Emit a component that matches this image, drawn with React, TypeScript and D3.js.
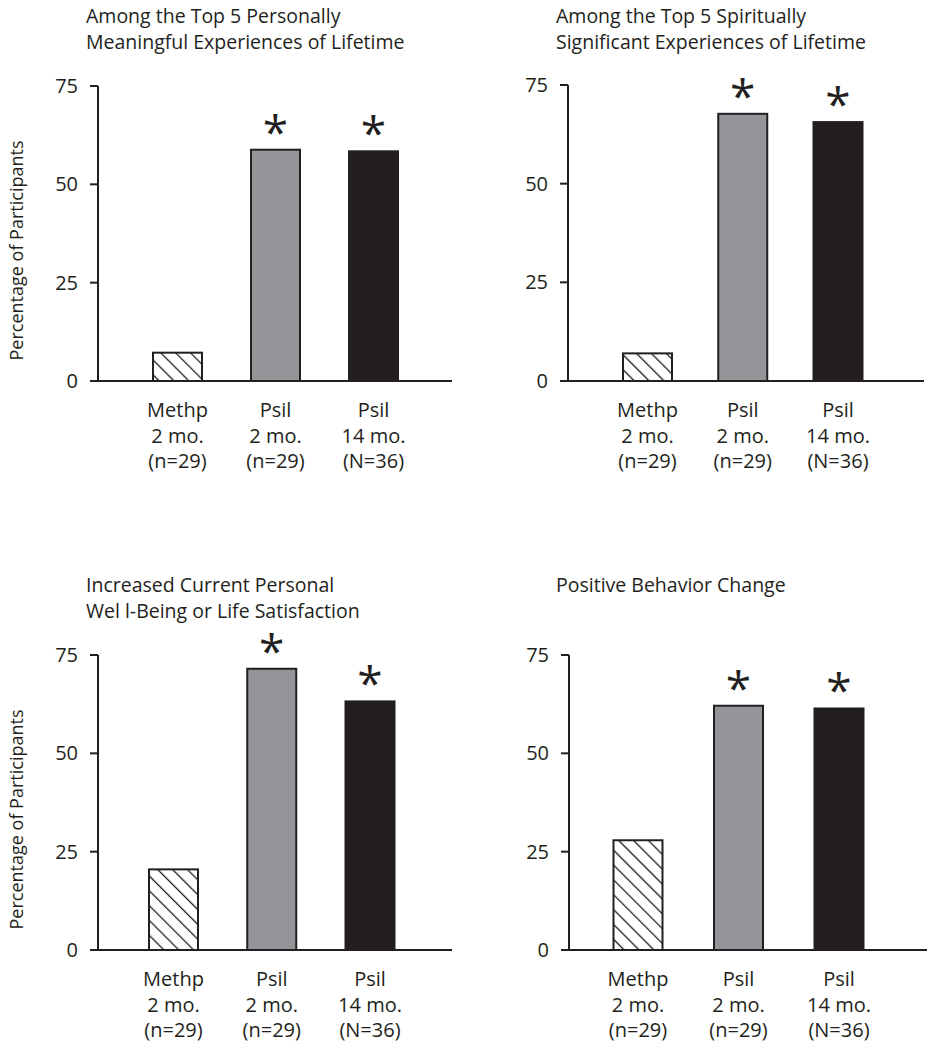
import React from "react";
import * as d3 from "d3";

const drugLabels = ["Methp", "Psil", "Psil"];
const timeLabels = ["2 mo.", "2 mo.", "14 mo."];
const nLabels = ["(n=29)", "(n=29)", "(N=36)"];
const fills = ["hatch", "#939598", "#231f20"];
const significant = [false, true, true];

const titleTopLeft = ["Among the Top 5 Personally", "Meaningful Experiences of Lifetime"];
const titleTopRight = ["Among the Top 5 Spiritually", "Significant Experiences of Lifetime"];
const titleBottomLeft = ["Increased Current Personal", "Wel l-Being or Life Satisfaction"];
const titleBottomRight = ["Positive Behavior Change"];

const valuesTopLeft = [7.2, 58.8, 58.4];
const valuesTopRight = [7.0, 67.7, 65.6];
const valuesBottomLeft = [20.5, 71.5, 63.2];
const valuesBottomRight = [27.9, 62.1, 61.4];

const yTicks = [0, 25, 50, 75];
const yLabel = "Percentage of Participants";

const INK = "#231f20";
const FONT = "'Open Sans', 'Noto Sans', sans-serif";
const FS = 20;

type Layout = {
  axisX: number; yTop: number; yBase: number; xEnd: number;
  titleX: number; titleY: number; c0: number; c2: number; showYLabel: boolean;
};

const panels: { title: string[]; values: number[]; layout: Layout }[] = [
  { title: titleTopLeft, values: valuesTopLeft, layout: { axisX: 98, yTop: 86, yBase: 381, xEnd: 452, titleX: 86, titleY: 23, c0: 79.5, c2: 275.5, showYLabel: true } },
  { title: titleTopRight, values: valuesTopRight, layout: { axisX: 568, yTop: 85, yBase: 381, xEnd: 924, titleX: 556, titleY: 23, c0: 79.5, c2: 270, showYLabel: false } },
  { title: titleBottomLeft, values: valuesBottomLeft, layout: { axisX: 98, yTop: 655, yBase: 950, xEnd: 452, titleX: 86, titleY: 592, c0: 75.5, c2: 272, showYLabel: true } },
  { title: titleBottomRight, values: valuesBottomRight, layout: { axisX: 569, yTop: 655, yBase: 950, xEnd: 927, titleX: 556, titleY: 592, c0: 69, c2: 270, showYLabel: false } },
];

function Panel({ title, values, layout }: { title: string[]; values: number[]; layout: Layout }) {
  const { axisX, yTop, yBase, xEnd, titleX, titleY, c0, c2, showYLabel } = layout;
  const y = d3.scaleLinear().domain([0, 75]).range([yBase, yTop]);
  const idx = values.map((_, i) => String(i));
  const x = d3.scalePoint<string>().domain(idx).range([axisX + c0, axisX + c2]);
  const barW = 49;
  return (
    <g>
      {title.map((t, i) => (
        <text key={i} x={titleX} y={titleY + i * 25.5} fontSize={19.5} fill={INK} fontFamily={FONT}>{t}</text>
      ))}
      {showYLabel && (
        <text
          transform={`translate(23,${(yTop + yBase) / 2 + 17}) rotate(-90)`}
          textAnchor="middle" fontSize={18} fill={INK} fontFamily={FONT}
        >{yLabel}</text>
      )}
      {values.map((v, i) => {
        const cx = x(String(i))!;
        const top = y(v);
        return (
          <g key={i}>
            <rect x={cx - barW / 2} y={top} width={barW} height={yBase - top}
              fill={fills[i] === "hatch" ? "url(#hatch)" : fills[i]} stroke={INK} strokeWidth={2} />
            {significant[i] && (
              <text x={cx} y={top - 1} textAnchor="middle" fontSize={46} fill={INK} fontFamily={FONT}>*</text>
            )}
            <text x={cx} y={yBase + 36} textAnchor="middle" fontSize={FS} fill={INK} fontFamily={FONT}>{drugLabels[i]}</text>
            <text x={cx} y={yBase + 62} textAnchor="middle" fontSize={FS} fill={INK} fontFamily={FONT}>{timeLabels[i]}</text>
            <text x={cx} y={yBase + 87} textAnchor="middle" fontSize={FS} fill={INK} fontFamily={FONT}>{nLabels[i]}</text>
          </g>
        );
      })}
      <line x1={axisX} x2={axisX} y1={yTop} y2={yBase} stroke={INK} strokeWidth={2} />
      <line x1={axisX - 8} x2={xEnd} y1={yBase} y2={yBase} stroke={INK} strokeWidth={2} />
      {yTicks.map((t) => (
        <g key={t}>
          <line x1={axisX - 8} x2={axisX} y1={y(t)} y2={y(t)} stroke={INK} strokeWidth={2} />
          <text x={axisX - 20} y={y(t)} dy="0.35em" textAnchor="end" fontSize={FS} fill={INK} fontFamily={FONT}>{t}</text>
        </g>
      ))}
    </g>
  );
}

export default function App() {
  return (
    <svg width={942} height={1050} style={{ position: "absolute", left: 0, top: 0, background: "#fff" }}>
      <defs>
        <pattern id="hatch" patternUnits="userSpaceOnUse" width={10.5} height={10.5} patternTransform="rotate(-45)">
          <rect width={10.5} height={10.5} fill="#fff" />
          <line x1={0} y1={0} x2={0} y2={10.5} stroke={INK} strokeWidth={2.6} />
        </pattern>
      </defs>
      <rect width={942} height={1050} fill="#fff" />
      {panels.map((p, i) => (
        <Panel key={i} title={p.title} values={p.values} layout={p.layout} />
      ))}
    </svg>
  );
}
